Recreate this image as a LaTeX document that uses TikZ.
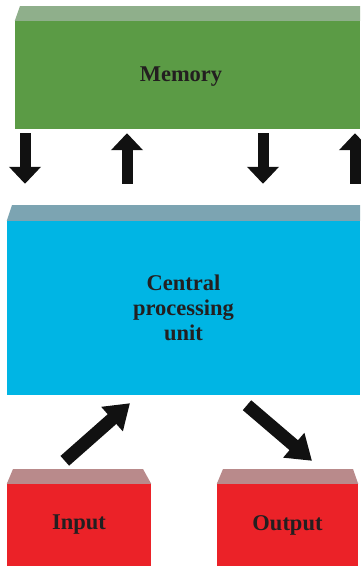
\documentclass[tikz,border=0pt]{standalone}
\usepackage{fontspec}
\setmainfont{Liberation Serif}
\usetikzlibrary{arrows.meta}
\definecolor{memfront}{HTML}{5B9B45}
\definecolor{memtop}{HTML}{8FAF8B}
\definecolor{cpufront}{HTML}{00B5E4}
\definecolor{cputop}{HTML}{7CA4B2}
\definecolor{iofront}{HTML}{EB2228}
\definecolor{iotop}{HTML}{B98A8B}
\definecolor{textdark}{HTML}{231F20}
\definecolor{arrowdark}{HTML}{111111}
\tikzset{
  box/.style={rectangle, inner sep=0pt, text=textdark, align=center,
    font=\fontsize{22.5}{25}\selectfont\bfseries},
  busarrow/.style={draw=arrowdark, line width=11pt,
    -{Triangle[width=31pt,length=17pt]}},
  ioarrow/.style={draw=arrowdark, line width=13pt,
    -{Triangle[width=31pt,length=24pt]}}
}
\begin{document}
\begin{tikzpicture}[x=1pt,y=-1pt]
      \useasboundingbox (0,0) rectangle (360,566);
      % boxes
      \node[box, fill=memfront, minimum width=345pt, minimum height=108pt] (mem) at (187.5,75) {\hspace*{-13pt}\raisebox{-6pt}[0pt][0pt]{Memory}};
      \node[box, fill=cpufront, minimum width=353pt, minimum height=174pt] (cpu) at (183.5,308) {Central\\processing\\unit};
      \node[box, fill=iofront, minimum width=144pt, minimum height=82pt] (inp) at (79,525) {Input};
      \node[box, fill=iofront, minimum width=141pt, minimum height=82pt] (out) at (287.5,525) {Output};
      % top faces
      \fill[memtop] (mem.north west) -- (20,6) -- (360,6) -- (mem.north east) -- cycle;
      \fill[cputop] (cpu.north west) -- (12,205) -- (360,205) -- (cpu.north east) -- cycle;
      \fill[iotop] (inp.north west) -- (13,469) -- (143,469) -- (inp.north east) -- cycle;
      \fill[iotop] (out.north west) -- (223,469) -- (353,469) -- (out.north east) -- cycle;
      % memory bus
      \begin{scope}[shorten <=4pt]
        \draw[busarrow] (mem.south -| 25,0) -- ([yshift=37pt]cpu.north -| 25,0);
        \draw[busarrow] (mem.south -| 263,0) -- ([yshift=37pt]cpu.north -| 263,0);
      \end{scope}
      \begin{scope}[shorten >=4pt]
        \draw[busarrow] ([yshift=37pt]cpu.north -| 127,0) -- (mem.south -| 127,0);
        \draw[busarrow] ([yshift=37pt]cpu.north -| 355,0) -- (mem.south -| 355,0);
      \end{scope}
      % input and output
      \draw[ioarrow] ([shift={(58,-23)}]inp.north west) -- ([shift={(-53.5,8)}]cpu.south);
      \draw[ioarrow] ([shift={(63.5,10)}]cpu.south) -- ([shift={(24.5,-23)}]out.north);
    \end{tikzpicture}
\end{document}
